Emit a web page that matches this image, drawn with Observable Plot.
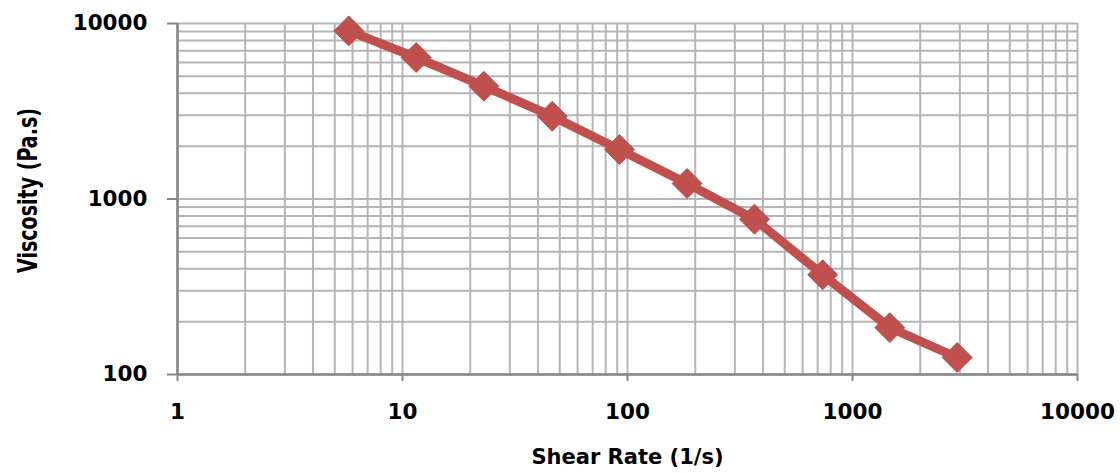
<!DOCTYPE html>
<html>
<head>
<meta charset="utf-8">
<script src="https://cdn.jsdelivr.net/npm/d3@7"></script>
<script src="https://cdn.jsdelivr.net/npm/@observablehq/plot@0.6"></script>
<style>
  html, body { margin: 0; padding: 0; background: #fff; }
</style>
</head>
<body>
<div id="chart"></div>
<script>
// Data
const shearRate = [5.77, 11.5, 23.0, 46.3, 92.1, 184, 367, 737, 1465, 2919];
const viscosity = [9076, 6402, 4393, 2963, 1914, 1226, 767, 370, 185, 125];

// Tick labels
const xTickLabels = [1, 10, 100, 1000, 10000];
const yTickLabels = [100, 1000, 10000];
const mantissas = [1, 2, 3, 4, 5, 6, 7, 8, 9];

const xTitle = "Shear Rate (1/s)";
const yTitle = "Viscosity (Pa.s)";

const data = shearRate.map((s, i) => ({ shear: s, visc: viscosity[i] }));

// minor grid values (log grid 1..9 per decade)
const xGrid = xTickLabels.slice(0, -1).flatMap(d => mantissas.map(m => d * m)).concat([10000]);
const yGrid = yTickLabels.slice(0, -1).flatMap(d => mantissas.map(m => d * m)).concat([10000]);

const red = "#c0504d";
const gridColor = "#b5b5b5";
const axisColor = "#868686";
const font = "'DejaVu Sans', sans-serif";

const chart = Plot.plot({
  width: 1120,
  height: 473,
  marginLeft: 177,
  marginRight: 43,
  marginTop: 23,
  marginBottom: 99,
  style: { fontFamily: font, background: "#fff", color: "#000" },
  x: { type: "log", domain: [1, 10000] },
  y: { type: "log", domain: [100, 10000] },
  marks: [
    Plot.ruleX(xGrid, { stroke: gridColor, strokeWidth: 2 }),
    Plot.ruleY(yGrid, { stroke: gridColor, strokeWidth: 2 }),
    Plot.ruleX([1], { stroke: axisColor, strokeWidth: 2.5 }),
    Plot.ruleY([100], { stroke: axisColor, strokeWidth: 2.5 }),
    Plot.axisX(xTickLabels, {
      tickSize: 7, tickPadding: 22, stroke: axisColor, strokeWidth: 2,
      tickFormat: d => String(d), fontSize: 21.5, fontWeight: "bold", label: null
    }),
    Plot.axisY(yTickLabels, {
      tickSize: 10, tickPadding: 20, stroke: axisColor, strokeWidth: 2,
      tickFormat: d => String(d), fontSize: 21.5, fontWeight: "bold", label: null
    }),
    Plot.text([xTitle], {
      frameAnchor: "bottom", text: d => d, dy: 89,
      fontSize: 21, fontWeight: "bold", fill: "#000"
    }),
    Plot.text([yTitle], {
      frameAnchor: "left", text: d => d, rotate: -90, dx: -149, dy: 74,
      textAnchor: "start",
      fontSize: 26, fontWeight: "bold", fill: "#000", className: "ytitle"
    }),
    Plot.line(data, { x: "shear", y: "visc", stroke: red, strokeWidth: 9, strokeLinejoin: "round" }),
    Plot.dot(data, { x: "shear", y: "visc", symbol: "diamond2", r: 13.5, fill: red, stroke: red, strokeWidth: 1 })
  ]
});

document.getElementById("chart").appendChild(chart);
const yt = chart.querySelector(".ytitle text");
if (yt) {
  yt.setAttribute("textLength", "165");
  yt.setAttribute("lengthAdjust", "spacingAndGlyphs");
}
</script>
</body>
</html>
